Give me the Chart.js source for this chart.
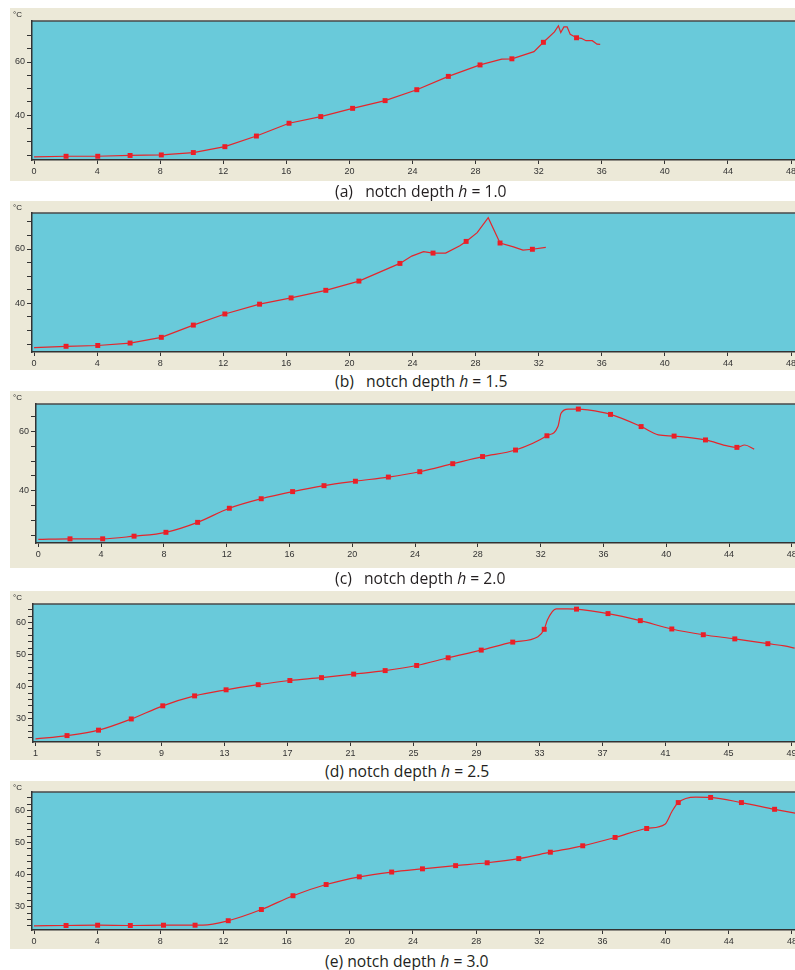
<!DOCTYPE html>
<html>
<head>
<meta charset="utf-8">
<script src="https://cdn.jsdelivr.net/npm/chart.js@4.4.1/dist/chart.umd.min.js"></script>
<style>
  html, body { margin: 0; padding: 0; background: #fff; width: 795px; height: 970px; overflow: hidden; }
  .panel { position: absolute; left: 10px; width: 800px; background: #ECE9D8; }
  .panel canvas { display: block; }
  .caption { position: absolute; white-space: pre; font-family: "Open Sans", sans-serif; font-size: 15.7px; line-height: 20px; color: #231f20; }
</style>
</head>
<body>
<div id="root"></div>
<script>
// temperature curves (time, °C), one set per notch depth
const aTime = [0, 2.03, 4.04, 6.09, 8.07, 10.1, 12.1, 14.1, 16.17, 18.18, 20.2, 22.26, 24.27, 26.27, 28.28, 29.66, 30.3, 31.7, 32.3, 33.0, 33.25, 33.4, 33.6, 33.8, 34.0, 34.4, 34.7, 35.0, 35.4, 35.7, 35.9];
const aTemp = [24.4, 24.6, 24.6, 24.9, 25.1, 26.0, 28.2, 32.2, 37.0, 39.5, 42.6, 45.5, 49.6, 54.6, 58.9, 61.1, 61.2, 63.9, 67.4, 71.3, 73.6, 71.1, 73.2, 73.2, 70.4, 69.1, 68.9, 68.0, 68.0, 66.7, 66.6];
const aMarks = [2.03, 4.04, 6.09, 8.07, 10.1, 12.1, 14.1, 16.17, 18.18, 20.2, 22.26, 24.27, 26.27, 28.28, 30.3, 32.3, 34.4];

const bTime = [0, 2.03, 4.04, 6.09, 8.07, 10.1, 12.1, 14.3, 16.3, 18.5, 20.6, 23.2, 23.95, 24.7, 25.3, 26.1, 27.0, 27.4, 28.1, 28.8, 29.55, 30.4, 31.0, 31.6, 32.45];
const bTemp = [23.7, 24.2, 24.5, 25.4, 27.5, 32.0, 36.1, 39.7, 42.0, 44.8, 48.2, 54.7, 57.4, 59.0, 58.5, 58.5, 61.2, 62.8, 66.0, 71.5, 62.2, 60.8, 59.6, 59.9, 60.6];
const bMarks = [2.03, 4.04, 6.09, 8.07, 10.1, 12.1, 14.3, 16.3, 18.5, 20.6, 23.2, 25.3, 27.4, 29.55, 31.6];

const cTime = [0, 2.02, 4.1, 6.1, 8.13, 10.15, 12.17, 14.2, 16.2, 18.2, 20.2, 22.3, 24.3, 26.4, 28.3, 30.4, 32.4, 33.1, 33.3, 33.75, 34.4, 35.0, 36.45, 38.4, 39.5, 40.5, 42.5, 43.95, 44.5, 45.0, 45.6];
const cTemp = [23.6, 23.8, 23.8, 24.7, 26.0, 29.35, 34.1, 37.3, 39.7, 41.7, 43.2, 44.6, 46.4, 49.1, 51.5, 53.7, 58.5, 61.6, 66.1, 67.5, 67.5, 67.2, 65.7, 61.6, 58.8, 58.4, 57.1, 55.0, 54.6, 55.4, 54.0];
const cMarks = [2.02, 4.1, 6.1, 8.13, 10.15, 12.17, 14.2, 16.2, 18.2, 20.2, 22.3, 24.3, 26.4, 28.3, 30.4, 32.4, 34.4, 36.45, 38.4, 40.5, 42.5, 44.5];

const dTime = [1, 3.0, 5.0, 7.08, 9.08, 11.1, 13.1, 15.14, 17.15, 19.16, 21.2, 23.2, 25.2, 27.2, 29.3, 31.3, 32.9, 33.3, 33.5, 34.06, 34.8, 35.35, 37.35, 39.4, 41.4, 43.4, 45.4, 47.5, 48.55, 49.2];
const dTemp = [23.65, 24.7, 26.4, 29.9, 34.0, 37.1, 39.0, 40.6, 41.9, 42.8, 43.9, 45.0, 46.6, 49.0, 51.4, 53.9, 55.6, 57.9, 60.8, 64.3, 64.3, 64.2, 62.8, 60.6, 58.0, 56.2, 54.9, 53.4, 52.7, 52.0];
const dMarks = [3.0, 5.0, 7.08, 9.08, 11.1, 13.1, 15.14, 17.15, 19.16, 21.2, 23.2, 25.2, 27.2, 29.3, 31.3, 33.3, 35.35, 37.35, 39.4, 41.4, 43.4, 45.4, 47.5];

const eTime = [0, 2.03, 4.03, 6.1, 8.2, 10.2, 10.7, 12.3, 14.4, 16.4, 18.5, 20.6, 22.65, 24.6, 26.7, 28.7, 30.7, 32.7, 34.75, 36.8, 38.8, 39.96, 40.4, 40.8, 41.9, 42.85, 44.8, 46.9, 48.2];
const eTemp = [24.0, 24.1, 24.2, 24.1, 24.2, 24.2, 24.2, 25.6, 29.1, 33.4, 36.9, 39.3, 40.8, 41.8, 42.8, 43.7, 45.0, 47.0, 49.0, 51.6, 54.4, 55.75, 59.7, 62.5, 64.2, 64.1, 62.5, 60.4, 59.2];
const eMarks = [2.03, 4.03, 6.1, 8.2, 10.2, 12.3, 14.4, 16.4, 18.5, 20.6, 22.65, 24.6, 26.7, 28.7, 30.7, 32.7, 34.75, 36.8, 38.8, 40.8, 42.85, 44.8, 46.9];

// tick positions and which of them carry a label
const xTicksFrom0 = [0, 4, 8, 12, 16, 20, 24, 28, 32, 36, 40, 44, 48];
const xTicksFrom1 = [1, 5, 9, 13, 17, 21, 25, 29, 33, 37, 41, 45, 49];
const yTicksBy5 = [25, 30, 35, 40, 45, 50, 55, 60, 65, 70];
const yTicksBy2 = [24, 26, 28, 30, 32, 34, 36, 38, 40, 42, 44, 46, 48, 50, 52, 54, 56, 58, 60, 62, 64];
const yLabels20 = [40, 60];
const yLabels10 = [30, 40, 50, 60];

const panels = [
  { time: aTime, temp: aTemp, marks: aMarks, xTicks: xTicksFrom0, yTicks: yTicksBy5, yLabels: yLabels20,
    xMin: -0.13, xMax: 48.57, yMin: 23.2, yMax: 75.4, top: 8, height: 173, padTop: 13, xAxisH: 21, yAxisW: 22,
    smooth: false, cap: "(a)   notch depth ", h: "1.0", capTop: 181, capLeft: 335 },
  { time: bTime, temp: bTemp, marks: bMarks, xTicks: xTicksFrom0, yTicks: yTicksBy5, yLabels: yLabels20,
    xMin: -0.13, xMax: 48.57, yMin: 22.1, yMax: 73.25, top: 201, height: 169, padTop: 12, xAxisH: 18, yAxisW: 22,
    smooth: false, cap: "(b)   notch depth ", h: "1.5", capTop: 371, capLeft: 335 },
  { time: cTime, temp: cTemp, marks: cMarks, xTicks: xTicksFrom0, yTicks: yTicksBy5, yLabels: yLabels20,
    xMin: -0.146, xMax: 48.52, yMin: 22.4, yMax: 69.2, top: 391, height: 177, padTop: 13, xAxisH: 25, yAxisW: 26,
    smooth: true, cap: "(c)   notch depth ", h: "2.0", capTop: 568, capLeft: 335 },
  { time: dTime, temp: dTemp, marks: dMarks, xTicks: xTicksFrom1, yTicks: yTicksBy2, yLabels: yLabels10,
    xMin: 0.84, xMax: 49.54, yMin: 22.7, yMax: 65.8, top: 591, height: 169, padTop: 13, xAxisH: 18, yAxisW: 23,
    smooth: true, cap: "(d) notch depth ", h: "2.5", capTop: 761, capLeft: 325 },
  { time: eTime, temp: eTemp, marks: eMarks, xTicks: xTicksFrom0, yTicks: yTicksBy2, yLabels: yLabels10,
    xMin: -0.127, xMax: 48.51, yMin: 22.7, yMax: 65.8, top: 781, height: 168, padTop: 11, xAxisH: 19, yAxisW: 22,
    smooth: true, cap: "(e) notch depth ", h: "3.0", capTop: 951, capLeft: 325 },
];

// blue plot area, dark frame and the °C unit label
const plotFrame = {
  id: "plotFrame",
  beforeDraw(chart) {
    const { ctx, chartArea: a } = chart;
    ctx.save();
    ctx.fillStyle = "#69CADA";
    ctx.fillRect(a.left, a.top, a.right - a.left, a.bottom - a.top);
    ctx.strokeStyle = "#4a4a4a";
    ctx.lineWidth = 1.5;
    ctx.beginPath();
    ctx.moveTo(a.left, a.top);
    ctx.lineTo(a.right, a.top);
    ctx.lineTo(a.right, a.bottom);
    ctx.stroke();
    ctx.fillStyle = "#222";
    ctx.font = "8px Arial";
    ctx.fillText("°C", 3, 9);
    ctx.restore();
  },
};

const root = document.getElementById("root");

panels.forEach((p) => {
  const box = document.createElement("div");
  box.className = "panel";
  box.style.top = p.top + "px";
  box.style.height = p.height + "px";
  const canvas = document.createElement("canvas");
  canvas.width = 800;
  canvas.height = p.height;
  box.appendChild(canvas);
  root.appendChild(box);

  const cap = document.createElement("div");
  cap.className = "caption";
  cap.style.top = p.capTop + "px";
  cap.style.left = p.capLeft + "px";
  cap.innerHTML = p.cap + "<i>h</i> = " + p.h;
  root.appendChild(cap);

  const curve = p.time.map((t, i) => ({ x: t, y: p.temp[i] }));
  const marks = p.marks.map((t) => ({ x: t, y: p.temp[p.time.indexOf(t)] }));

  new Chart(canvas, {
    type: "line",
    data: {
      datasets: [
        {
          data: curve,
          borderColor: "#E4262C",
          borderWidth: 1.2,
          pointRadius: 0,
          tension: 0,
          cubicInterpolationMode: p.smooth ? "monotone" : "default",
        },
        {
          data: marks,
          showLine: false,
          pointStyle: "rect",
          pointRadius: 3.5,
          pointBackgroundColor: "#EE1C25",
          pointBorderWidth: 0,
        },
      ],
    },
    plugins: [plotFrame],
    options: {
      responsive: false,
      animation: false,
      devicePixelRatio: 1,
      layout: { padding: { top: p.padTop, right: 10, bottom: 0, left: 0 } },
      plugins: { legend: { display: false }, tooltip: { enabled: false } },
      scales: {
        x: {
          type: "linear",
          min: p.xMin,
          max: p.xMax,
          afterBuildTicks: (s) => { s.ticks = p.xTicks.filter((v) => v >= s.min && v <= s.max).map((v) => ({ value: v })); },
          afterFit: (s) => { s.height = p.xAxisH; },
          grid: { drawOnChartArea: false, drawTicks: true, tickLength: 4, tickColor: "#333" },
          border: { display: true, color: "#333", width: 1.5 },
          ticks: { autoSkip: false, maxRotation: 0, padding: 2, color: "#333", font: { family: "Arial", size: 9 } },
        },
        y: {
          type: "linear",
          min: p.yMin,
          max: p.yMax,
          afterBuildTicks: (s) => { s.ticks = p.yTicks.filter((v) => v >= s.min && v <= s.max).map((v) => ({ value: v })); },
          afterFit: (s) => { s.width = p.yAxisW; },
          grid: { drawOnChartArea: false, drawTicks: true, tickLength: 5, tickColor: "#333" },
          border: { display: true, color: "#333", width: 1.5 },
          ticks: {
            autoSkip: false,
            padding: 2,
            color: "#333",
            font: { family: "Arial", size: 9 },
            callback: (v) => (p.yLabels.includes(v) ? String(v) : ""),
          },
        },
      },
    },
  });
});
</script>
</body>
</html>
